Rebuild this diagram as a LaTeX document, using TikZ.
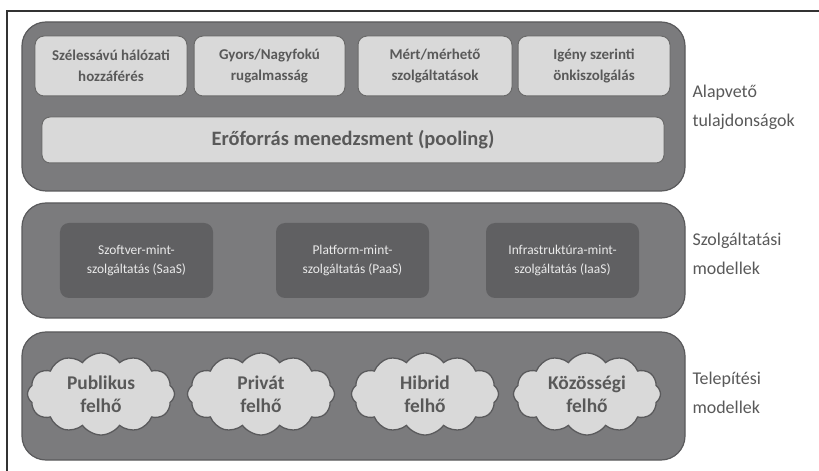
\documentclass[tikz,border=0pt]{standalone}
\usepackage{fontspec}
\setmainfont{Carlito}
\usetikzlibrary{shapes.symbols}
\definecolor{panel}{HTML}{7B7B7D}
\definecolor{panelline}{HTML}{5A5A5C}
\definecolor{lightbox}{HTML}{D9D9D9}
\definecolor{lightline}{HTML}{6A6A6A}
\definecolor{darkbox}{HTML}{606062}
\definecolor{txtgray}{HTML}{595959}
\definecolor{txtlight}{HTML}{EAEAEA}
\tikzset{
  panelbox/.style={draw=panelline, fill=panel, line width=1.2bp, rounded corners=24bp},
  propbox/.style={draw=lightline, fill=lightbox, line width=1bp, rounded corners=9bp, text=txtgray, font=\fontsize{15}{21}\selectfont\bfseries, align=center},
  poolbox/.style={draw=lightline, fill=lightbox, line width=1bp, rounded corners=8bp, text=txtgray, font=\fontsize{20.5}{22}\selectfont\bfseries, align=center},
  modelbox/.style={fill=darkbox, rounded corners=9bp, text=txtlight, font=\fontsize{13.5}{20}\selectfont, align=center},
  cloudnode/.style={cloud, cloud puffs=12, cloud puff arc=110, aspect=1.9, draw=panelline, fill=lightbox, line width=1.3bp, text=txtgray, font=\fontsize{19.5}{23}\selectfont\bfseries, align=center, minimum width=147bp, minimum height=82bp, inner sep=0pt},
  sidelabel/.style={anchor=west, text=txtgray, font=\fontsize{18}{29}\selectfont, align=left}
}
\begin{document}
\begin{tikzpicture}[x=1bp,y=-1bp]
\useasboundingbox (0,0) rectangle (819,471);
\fill[white] (0,0) rectangle (819,471);
% frame
\coordinate (fbl) at (7,471);
\coordinate (ftl) at (7,11);
\coordinate (ftr) at (819,11);
\draw[line width=1.5bp, draw=black!80] (fbl) -- (ftl) -- (ftr);
% panels
\draw[panelbox] (22,22) rectangle (685,191);
\draw[panelbox] (22,203) rectangle (685,318);
\draw[panelbox] (22,332) rectangle (685,460);
% top boxes
\node[propbox, minimum width=152bp, minimum height=60bp] (p1) at (111,66) {Szélessávú hálózati\\hozzáférés};
\node[propbox, minimum width=151bp, minimum height=60bp] (p2) at (269.5,66) {Gyors/Nagyfokú\\rugalmasság};
\node[propbox, minimum width=154bp, minimum height=60bp] (p3) at (435,66) {Mért/mérhető\\szolgáltatások};
\node[propbox, minimum width=152bp, minimum height=60bp] (p4) at (594,66) {Igény szerinti\\önkiszolgálás};
\node[poolbox, minimum width=622bp, minimum height=46bp] (pool) at (353,140) {Erőforrás menedzsment (pooling)};
% service models
\node[modelbox, minimum width=153bp, minimum height=75bp] (saas) at (136.5,260.5) {Szoftver-mint-\\szolgáltatás (SaaS)};
\node[modelbox, minimum width=153bp, minimum height=75bp] (paas) at (352.5,260.5) {Platform-mint-\\szolgáltatás (PaaS)};
\node[modelbox, minimum width=153bp, minimum height=75bp] (iaas) at (562.5,260.5) {Infrastruktúra-mint-\\szolgáltatás (IaaS)};
% clouds
\node[cloudnode] (c1) at (101,394) {Publikus\\felhő};
\node[cloudnode] (c2) at (261,394) {Privát\\felhő};
\node[cloudnode] (c3) at (425,394) {Hibrid\\felhő};
\node[cloudnode] (c4) at (587,394) {Közösségi\\felhő};
% side labels
\node[sidelabel] (l1) at (689,107) {Alapvető\\tulajdonságok};
\node[sidelabel] (l2) at (689,254) {Szolgáltatási\\modellek};
\node[sidelabel] (l3) at (689,393) {Telepítési\\modellek};
\end{tikzpicture}
\end{document}
